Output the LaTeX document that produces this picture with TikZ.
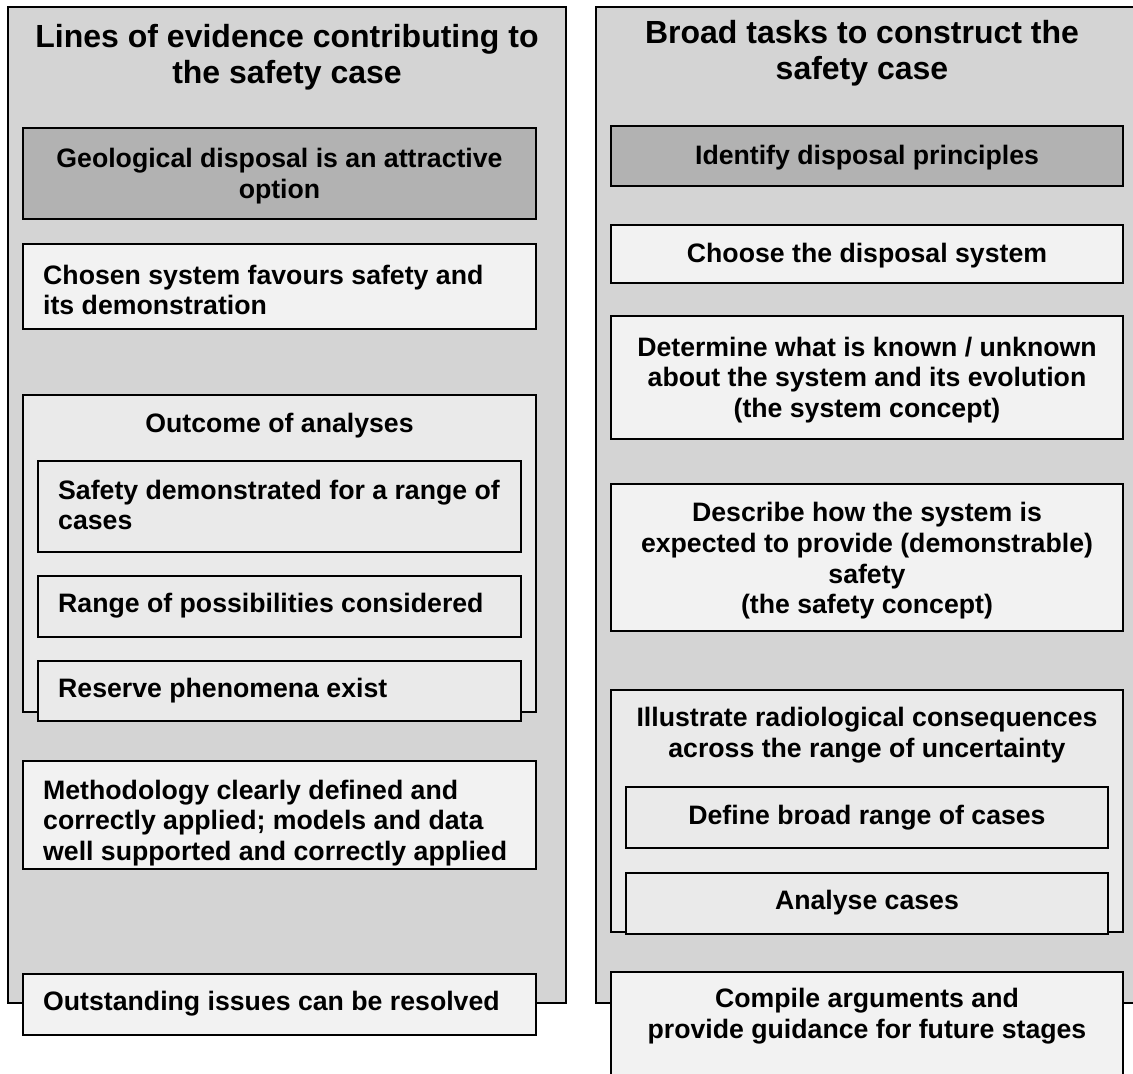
\documentclass[tikz,border=0pt]{standalone}
\usepackage{fontspec}
\setmainfont{Liberation Sans}
\usetikzlibrary{shadows}
\definecolor{panelgray}{HTML}{D4D4D4}
\definecolor{darkbox}{HTML}{B2B2B2}
\definecolor{lightbox}{HTML}{F2F2F2}
\definecolor{contbox}{HTML}{EAEAEA}
\definecolor{shadowgray}{HTML}{8C8C8C}
\begin{document}
\begin{tikzpicture}[x=1pt,y=-1pt,
  boxshadow/.style={drop shadow={shadow xshift=1.3pt, shadow yshift=-1.3pt, fill=shadowgray, opacity=1}},
  panel/.style={draw=black, line width=1.7pt, fill=panelgray},
  dbox/.style={boxshadow, draw=black, line width=1.4pt, fill=darkbox},
  lbox/.style={boxshadow, draw=black, line width=1.4pt, fill=lightbox},
  cbox/.style={boxshadow, draw=black, line width=1.4pt, fill=contbox},
  txt/.style={font=\bfseries\fontsize{26.67}{30.7}\selectfont, inner sep=0pt, align=left},
  ctxt/.style={font=\bfseries\fontsize{26.67}{30.7}\selectfont, inner sep=0pt, align=center},
  ttl/.style={font=\bfseries\fontsize{32}{36}\selectfont, inner sep=0pt, align=center}]
\useasboundingbox (0,0) rectangle (1133,1074);
\clip (0,0) rectangle (1133,1074);
\fill[white] (0,0) rectangle (1133,1074);

% ---------- left panel ----------
\draw[panel] (8,7) rectangle (566,1003);
\node[ttl] (ltitle) at (287,57) {Lines of evidence contributing to\\the safety case};

\draw[dbox] (23,128) rectangle (536,219);
\node[ctxt] (geo) at (279.5,176) {Geological disposal is an attractive\\option};

\draw[lbox] (23,244) rectangle (536,329);
\node[txt, anchor=west] (chosen) at (43,290) {Chosen system favours safety and\\its demonstration};

\draw[cbox] (23,395) rectangle (536,712);
\node[ctxt] (outcome) at (279.5,426) {Outcome of analyses};
\draw[cbox] (38,461) rectangle (521,552);
\node[txt, anchor=west] (safety) at (58,505) {Safety demonstrated for a range of\\cases};
\draw[cbox] (38,576) rectangle (521,637);
\node[txt, anchor=west] (range) at (58,606) {Range of possibilities considered};
\draw[cbox] (38,661) rectangle (521,721);
\node[txt, anchor=west] (reserve) at (58,691) {Reserve phenomena exist};

\draw[lbox] (23,761) rectangle (536,869);
\node[txt, anchor=west] (method) at (43,823) {Methodology clearly defined and\\correctly applied; models and data\\well supported and correctly applied};

\draw[lbox] (23,974) rectangle (536,1035);
\node[txt, anchor=west] (issues) at (43,1004) {Outstanding issues can be resolved};

% ---------- right panel ----------
\draw[panel] (596,7) rectangle (1150,1003);
\node[ttl] (rtitle) at (862,53) {Broad tasks to construct the\\safety case};

\draw[dbox] (611,126) rectangle (1123,186);
\node[ctxt] (identify) at (867,158) {Identify disposal principles};

\draw[lbox] (611,225) rectangle (1123,283);
\node[ctxt] (choose) at (867,256) {Choose the disposal system};

\draw[lbox] (611,316) rectangle (1123,439);
\node[ctxt] (determine) at (867,380) {Determine what is known / unknown\\about the system and its evolution\\(the system concept)};

\draw[lbox] (611,484) rectangle (1123,631);
\node[ctxt] (describe) at (867,561) {Describe how the system is\\expected to provide (demonstrable)\\safety\\(the safety concept)};

\draw[cbox] (611,690) rectangle (1123,932);
\node[ctxt] (illustrate) at (867,735) {Illustrate radiological consequences\\across the range of uncertainty};
\draw[cbox] (626,787) rectangle (1108,848);
\node[ctxt] (define) at (867,818) {Define broad range of cases};
\draw[cbox] (626,873) rectangle (1108,934);
\node[ctxt] (analyse) at (867,903) {Analyse cases};

\draw[lbox] (611,972) rectangle (1123,1100);
\node[ctxt] (compile) at (867,1016) {Compile arguments and\\provide guidance for future stages};
\end{tikzpicture}
\end{document}
